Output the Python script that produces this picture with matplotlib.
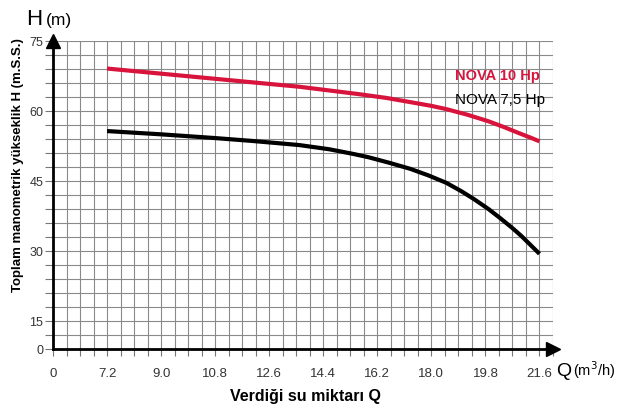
import numpy as np
import matplotlib.pyplot as plt

plt.rcParams['font.family'] = ['Liberation Sans', 'DejaVu Sans']

# flow rate Q (m3/h) and head H (m)
q_10hp = [7.2, 9.0, 10.8, 12.6, 13.6, 14.6, 15.6, 16.5, 17.3, 18.0, 18.5,
          19.2, 19.9, 20.4, 20.9, 21.3, 21.6]
h_10hp = [69.1, 68.0, 66.9, 65.8, 65.2, 64.4, 63.6, 62.8, 61.9, 61.1, 60.4,
          59.2, 57.8, 56.6, 55.3, 54.3, 53.5]

q_75hp = [7.2, 9.0, 10.8, 12.0, 12.9, 13.6, 14.6, 15.4, 15.9, 16.6, 17.3,
          17.9, 18.5, 19.0, 19.4, 19.9, 20.3, 20.7, 21.0, 21.3, 21.6]
h_75hp = [55.7, 55.0, 54.2, 53.6, 53.1, 52.7, 51.8, 50.8, 50.1, 48.9, 47.6,
          46.2, 44.6, 42.8, 41.2, 39.0, 37.0, 34.9, 33.2, 31.3, 29.4]

x_ticks = [0, 7.2, 9.0, 10.8, 12.6, 14.4, 16.2, 18.0, 19.8, 21.6]
x_labels = ['0', '7.2', '9.0', '10.8', '12.6', '14.4', '16.2', '18.0', '19.8', '21.6']
y_ticks = [0, 15, 30, 45, 60, 75]

red = '#d8143c'


# broken axes: 0-7.2 and 0-15 are squeezed like on the printed sheet
def fwd_x(q):
    q = np.asarray(q, dtype=float)
    return np.where(q < 7.2, q / 7.2, 1 + (q - 7.2) / 1.8)


def inv_x(p):
    p = np.asarray(p, dtype=float)
    return np.where(p < 1, p * 7.2, 7.2 + (p - 1) * 1.8)


def fwd_y(h):
    h = np.asarray(h, dtype=float)
    return np.where(h < 15, h / 7.5, 2 + (h - 15) / 3.0)


def inv_y(p):
    p = np.asarray(p, dtype=float)
    return np.where(p < 2, p * 7.5, 15 + (p - 2) * 3.0)


fig = plt.figure(figsize=(6.19, 4.10), dpi=100)
ax = fig.add_axes([53/619, 1 - 350/410, 500/619, (350 - 42)/410])
ax.set_xscale('function', functions=(fwd_x, inv_x))
ax.set_yscale('function', functions=(fwd_y, inv_y))
ax.set_xlim(0, 22.05)
ax.set_ylim(0, 75)

minor_x = list(np.arange(0, 7.2, 1.8)) + list(np.arange(7.2, 22.1, 0.45))
minor_y = [0, 7.5] + list(np.arange(15, 75.1, 3))
ax.set_xticks(x_ticks)
ax.set_xticklabels(x_labels)
ax.set_xticks(minor_x, minor=True)
ax.set_yticks(y_ticks)
ax.set_yticklabels([str(v) for v in y_ticks])
ax.set_yticks(minor_y, minor=True)

ax.grid(which='both', color='#8a8a8a', linewidth=0.8)
ax.set_axisbelow(True)
ax.tick_params(which='both', direction='out', color='#777777', width=0.8)
ax.tick_params(axis='x', which='both', length=5, labelsize=9.5, labelcolor='#333333', pad=8)
ax.tick_params(axis='y', which='both', length=6, labelsize=9, labelcolor='#333333', pad=1)

for s in ['top', 'right']:
    ax.spines[s].set_visible(False)
for s in ['left', 'bottom']:
    ax.spines[s].set_linewidth(2)
    ax.spines[s].set_color('black')

# arrow heads on the axes
ax.plot(0, 75, marker='^', markersize=10, color='black', clip_on=False, zorder=5)
ax.plot(22.05, 0, marker='>', markersize=10, color='black', clip_on=False, zorder=5)

ax.plot(q_10hp, h_10hp, color=red, linewidth=3, solid_capstyle='butt', zorder=4)
ax.plot(q_75hp, h_75hp, color='black', linewidth=3, solid_capstyle='butt', zorder=4)

fig.text(455/619, 1 - 76/410, 'NOVA 10 Hp', color=red, fontsize=10.5,
         fontweight='bold', va='center', ha='left')
fig.text(455/619, 1 - 100/410, 'NOVA 7,5 Hp', color='black', fontsize=11,
         va='center', ha='left')

fig.text(26/619, 1 - 25/410, 'H', fontsize=16, va='baseline', ha='left')
fig.text(46/619, 1 - 25/410, '(m)', fontsize=12.5, va='baseline', ha='left')

fig.text(18/619, 1 - 165/410, 'Toplam manometrik yükseklik H (m.S.S.)',
         rotation=90, fontsize=9.5, fontweight='bold', va='center', ha='center')

fig.text(556/619, 1 - 376/410, 'Q', fontsize=14, va='baseline', ha='left')
fig.text(573/619, 1 - 376/410, r'(m$^3$/h)', fontsize=10.5, va='baseline', ha='left')

fig.text(305/619, 1 - 397/410, 'Verdiği su miktarı Q', fontsize=11.5,
         fontweight='bold', va='center', ha='center')

fig.savefig('out.png', dpi=100)
